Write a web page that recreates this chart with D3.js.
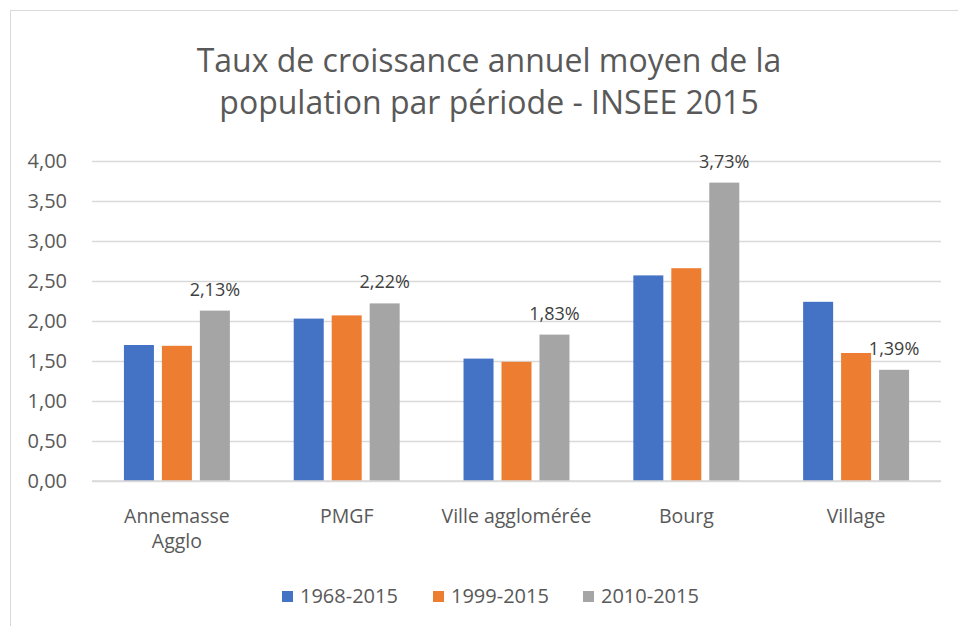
<!DOCTYPE html>
<html>
<head>
<meta charset="utf-8">
<script src="https://cdn.jsdelivr.net/npm/d3@7"></script>
<style>
  body { margin: 0; background: #fff; }
  svg { font-family: "Open Sans", Lato, sans-serif; }
</style>
</head>
<body>
<div id="chart"></div>
<script>
(function() {
  // data
  let categories = ['Annemasse Agglo', 'PMGF', 'Ville agglomérée', 'Bourg', 'Village']
  let series = ['1968-2015', '1999-2015', '2010-2015']
  let v1968 = [1.70, 2.03, 1.53, 2.57, 2.24]
  let v1999 = [1.69, 2.07, 1.49, 2.66, 1.60]
  let v2010 = [2.13, 2.22, 1.83, 3.73, 1.39]
  let yTicks = [0, 0.5, 1, 1.5, 2, 2.5, 3, 3.5, 4]
  let colors = ['#4472C4', '#ED7D31', '#A5A5A5']

  let values = [v1968, v1999, v2010]
  let rows = categories.map((c, i) => ({
    cat: c,
    vals: series.map((s, j) => ({ key: s, value: values[j][i], idx: j }))
  }))

  let width = 958
  let height = 626
  let plot = { left: 92, right: 941, top: 161, bottom: 481 }

  let svg = d3.select('#chart')
    .append('svg')
    .attr('width', width)
    .attr('height', height)

  // chart border (only top and left visible in the picture)
  svg.append('rect')
    .attr('x', 10.5)
    .attr('y', 10.5)
    .attr('width', width + 20)
    .attr('height', height + 20)
    .attr('fill', 'none')
    .attr('stroke', '#d9d9d9')

  svg.append('text')
    .attr('x', 479)
    .attr('text-anchor', 'middle')
    .attr('fill', '#595959')
    .attr('font-size', 32)
    .selectAll('tspan')
    .data(['Taux de croissance annuel moyen de la', 'population par période - INSEE 2015'])
    .enter()
    .append('tspan')
    .attr('x', 489)
    .attr('y', (d, i) => 72 + i * 42)
    .text(d => d)

  let y = d3.scaleLinear().domain([0, 4]).range([plot.bottom, plot.top])

  let x0 = d3.scaleBand()
    .domain(categories)
    .range([plot.left, plot.right])
    .paddingInner(0.376)
    .paddingOuter(0.188)

  let x1 = d3.scaleBand()
    .domain(series)
    .range([0, x0.bandwidth()])
    .paddingInner(0.21)

  // gridlines + y labels
  let yAxis = d3.axisLeft(y)
    .tickValues(yTicks)
    .tickSize(-(plot.right - plot.left))
    .tickPadding(25)
    .tickFormat(d => d3.format('.2f')(d).replace('.', ','))

  let yg = svg.append('g')
    .attr('class', 'axis y-axis')
    .attr('transform', 'translate(' + plot.left + ',0)')
    .call(yAxis)
  yg.select('.domain').remove()
  yg.selectAll('.tick line').attr('stroke', '#d9d9d9').attr('stroke-width', 1.3)
  yg.selectAll('.tick text')
    .attr('fill', '#595959')
    .attr('font-size', 20)
    .attr('font-family', '"Open Sans", sans-serif')

  // bars
  let groups = svg.selectAll('.group')
    .data(rows)
    .enter()
    .append('g')
    .attr('class', 'group')
    .attr('transform', d => 'translate(' + x0(d.cat) + ',0)')

  groups.selectAll('rect')
    .data(d => d.vals)
    .enter()
    .append('rect')
    .attr('x', d => x1(d.key))
    .attr('width', x1.bandwidth())
    .attr('y', d => y(d.value))
    .attr('height', d => y(0) - y(d.value))
    .attr('fill', d => colors[d.idx])

  // data labels only on the last series
  groups.append('text')
    .datum(d => d.vals[2])
    .attr('x', d => x1(d.key) + x1.bandwidth() / 2)
    .attr('y', d => y(d.value) - 15)
    .attr('text-anchor', 'middle')
    .attr('fill', '#404040')
    .attr('font-size', 18)
    .text(d => d3.format('.2f')(d.value).replace('.', ',') + '%')

  // baseline
  svg.append('line')
    .attr('x1', plot.left)
    .attr('x2', plot.right)
    .attr('y1', y(0))
    .attr('y2', y(0))
    .attr('stroke', '#d9d9d9')
    .attr('stroke-width', 1.5)

  // category labels
  let catLines = { 'Annemasse Agglo': ['Annemasse', 'Agglo'] }
  svg.append('g')
    .selectAll('text')
    .data(categories)
    .enter()
    .append('text')
    .attr('text-anchor', 'middle')
    .attr('fill', '#595959')
    .attr('font-size', 19.5)
    .each(function(d) {
      let lines = catLines[d] || [d]
      let cx = x0(d) + x0.bandwidth() / 2
      d3.select(this).selectAll('tspan')
        .data(lines)
        .enter()
        .append('tspan')
        .attr('x', cx)
        .attr('y', (l, i) => 523 + i * 25)
        .text(l => l)
    })

  // legend
  let legendX = [282, 433, 583]
  let legend = svg.selectAll('.legend')
    .data(series)
    .enter()
    .append('g')
    .attr('class', 'legend')
    .attr('transform', (d, i) => 'translate(' + legendX[i] + ',591)')

  legend.append('rect')
    .attr('width', 11)
    .attr('height', 11)
    .attr('fill', (d, i) => colors[i])

  legend.append('text')
    .attr('x', 18)
    .attr('y', 12)
    .attr('fill', '#595959')
    .attr('font-size', 20)
    .text(d => d)
})()
</script>
</body>
</html>
